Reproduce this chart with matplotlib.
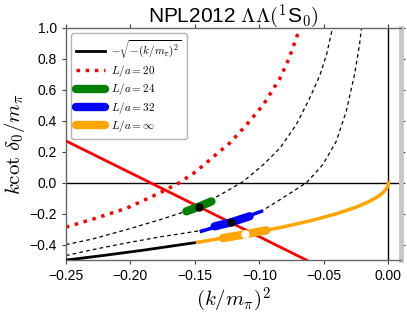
import matplotlib
matplotlib.use('Agg')
import matplotlib.pyplot as plt

plt.rcParams['font.family'] = ['Liberation Sans', 'DejaVu Sans']
plt.rcParams['mathtext.fontset'] = 'cm'

# curves
x_sqrt = [-0.25, -0.22, -0.19, -0.148]
y_sqrt = [-0.5, -0.469, -0.436, -0.385]

x_inf = [-0.148, -0.12, -0.1, -0.08, -0.06, -0.04, -0.025, -0.015, -0.008, -0.004, -0.0015, -0.0005, 0.0]
y_inf = [-0.385, -0.346, -0.316, -0.283, -0.245, -0.2, -0.158, -0.122, -0.089, -0.063, -0.039, -0.022, 0.0]

x_20 = [-0.25, -0.229, -0.203, -0.177, -0.162, -0.149, -0.136, -0.123, -0.110, -0.097, -0.084, -0.077, -0.069, -0.067]
y_20 = [-0.287, -0.235, -0.165, -0.065, 0.0, 0.073, 0.165, 0.256, 0.374, 0.503, 0.675, 0.804, 0.99, 1.03]

x_24 = [-0.25, -0.229, -0.203, -0.177, -0.157, -0.147, -0.128, -0.113, -0.097, -0.084, -0.0715,
        -0.061, -0.053, -0.048, -0.0436, -0.0425]
y_24 = [-0.40, -0.363, -0.303, -0.239, -0.185, -0.155, -0.067, 0.005, 0.116, 0.224, 0.374,
        0.546, 0.697, 0.826, 0.99, 1.03]

x_32 = [-0.25, -0.229, -0.203, -0.177, -0.149, -0.122, -0.0985, -0.082, -0.0635, -0.0509, -0.0405,
        -0.0327, -0.0263, -0.0224, -0.021, -0.0205]
y_32 = [-0.471, -0.432, -0.389, -0.350, -0.314, -0.256, -0.185, -0.099, 0.0, 0.116, 0.266,
        0.460, 0.697, 0.890, 0.99, 1.03]

# straight red line
x_red = [-0.25, -0.0635]
y_red = [0.27, -0.5]

# thick bands and central points
x_g = [-0.1566, -0.147, -0.1372]
y_g = [-0.185, -0.155, -0.121]
x_b_thin = [-0.145, -0.122, -0.0985]
y_b_thin = [-0.314, -0.256, -0.185]
x_b = [-0.1347, -0.122, -0.1076]
y_b = [-0.282, -0.256, -0.217]
x_o = [-0.1282, -0.111, -0.0947]
y_o = [-0.358, -0.333, -0.308]

dot_g = (-0.147, -0.155)
dot_b = (-0.122, -0.256)
dot_o = (-0.111, -0.333)

fig = plt.figure(figsize=(4.07, 3.13), dpi=100)
ax = fig.add_axes([0.162, 0.169, 0.824, 0.742])

ax.axhline(0, color='k', lw=1, zorder=1)
ax.axvline(0, color='k', lw=1, zorder=1)

ax.plot(x_sqrt, y_sqrt, color='k', lw=2, label=r'$-\sqrt{-(k/m_\pi)^2}$', zorder=3)
ax.plot(x_20, y_20, color='red', lw=2.5, ls=':', label=r'$L/a=20$', zorder=2)
ax.plot(x_24, y_24, color='k', lw=0.9, ls='--', dashes=(3, 2.5), zorder=2)
ax.plot(x_32, y_32, color='k', lw=0.9, ls='--', dashes=(3, 2.5), zorder=2)
ax.plot(x_red, y_red, color='red', lw=2, zorder=3)

ax.plot(x_g, y_g, color='green', lw=6, solid_capstyle='round', label=r'$L/a=24$', zorder=4)
ax.plot(x_b_thin, y_b_thin, color='blue', lw=2.5, zorder=4)
ax.plot(x_b, y_b, color='blue', lw=6, solid_capstyle='round', label=r'$L/a=32$', zorder=4)
ax.plot(x_inf, y_inf, color='orange', lw=2.5, zorder=4)
ax.plot(x_o, y_o, color='orange', lw=6, solid_capstyle='round', label=r'$L/a=\infty$', zorder=4)

ax.plot(*dot_g, 'o', color='k', ms=5, zorder=5)
ax.plot(*dot_b, 'o', color='k', ms=5, zorder=5)
ax.plot(*dot_o, 'o', color='white', ms=5, zorder=5)

ax.set_xlim(-0.25, 0.01)
ax.set_ylim(-0.5, 1.0)
ax.set_xticks([-0.25, -0.2, -0.15, -0.1, -0.05, 0.0])
ax.set_yticks([-0.4, -0.2, 0.0, 0.2, 0.4, 0.6, 0.8, 1.0])
ax.tick_params(direction='out', length=3, width=0.8, top=True, right=True,
               labelsize=10, colors='0.25', labelcolor='k')
for side in ['left', 'bottom', 'top']:
    ax.spines[side].set_color('0.4')
    ax.spines[side].set_linewidth(1)
ax.spines['right'].set_color('0.78')
ax.spines['right'].set_linewidth(3.5)

ax.set_xlabel(r'$(k/m_\pi)^2$', fontsize=15, labelpad=2)
ax.set_ylabel(r'$k\cot\,\delta_0/m_\pi$', fontsize=15, labelpad=2)
ax.set_title(r'NPL2012 $\Lambda\Lambda(^1$S$_0)$', fontsize=15, pad=4)

leg = ax.legend(loc='upper left', fontsize=8, handlelength=2.6, labelspacing=0.22,
                borderpad=0.4, handletextpad=0.6, framealpha=1, edgecolor='0.7', fancybox=True)

fig.savefig('out.png', dpi=100)
